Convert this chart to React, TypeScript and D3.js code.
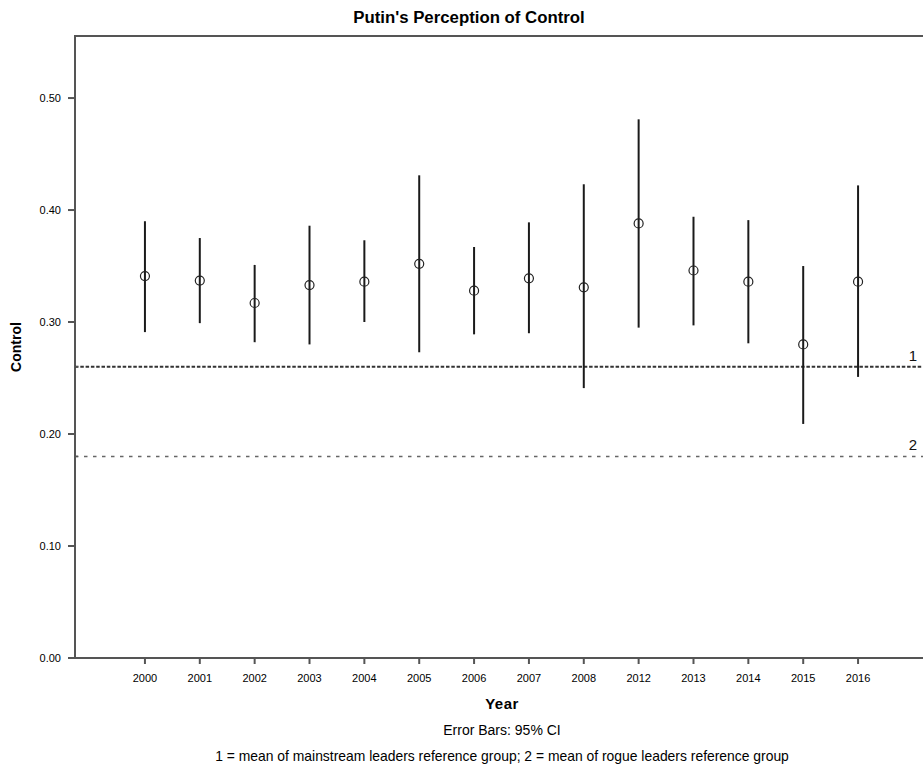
import React from "react";
import * as d3 from "d3";

const years = ["2000","2001","2002","2003","2004","2005","2006","2007","2008","2012","2013","2014","2015","2016"];
const means = [0.341,0.337,0.317,0.333,0.336,0.352,0.328,0.339,0.331,0.388,0.346,0.336,0.280,0.336];
const ciLow = [0.291,0.299,0.282,0.280,0.300,0.273,0.289,0.290,0.241,0.295,0.297,0.281,0.209,0.251];
const ciHigh = [0.390,0.375,0.351,0.386,0.373,0.431,0.367,0.389,0.423,0.481,0.394,0.391,0.350,0.422];
const yTicks = [0,0.1,0.2,0.3,0.4,0.5];
const refValues = [0.26,0.18];
const refLabels = ["1","2"];

const FONT = "'Liberation Sans', Arial, sans-serif";

export default function App() {
  const W = 923, H = 765;
  const left = 75, right = 928, top = 36, bottom = 658;
  const x = d3.scalePoint<string>().domain(years).range([left, right]).padding(1.275);
  const y = d3.scaleLinear().domain([0, 0.5554]).range([bottom, top]);
  const fmt = d3.format(".2f");
  const axisColor = "#555";
  return (
    <svg width={W} height={H} style={{ position: "absolute", left: 0, top: 0, background: "#fff" }} fontFamily={FONT}>
      <rect x={0} y={0} width={W} height={H} fill="#fff" />
      {/* frame */}
      <line x1={left} x2={right} y1={top} y2={top} stroke={axisColor} strokeWidth={2} />
      <line x1={right} x2={right} y1={top} y2={bottom} stroke={axisColor} strokeWidth={2} />
      <line x1={left} x2={left} y1={top - 1} y2={bottom + 1} stroke={axisColor} strokeWidth={2} />
      <line x1={left - 7} x2={right} y1={bottom} y2={bottom} stroke={axisColor} strokeWidth={2} />
      {/* y ticks */}
      {yTicks.map((t) => (
        <g key={t}>
          <line x1={left - 7} x2={left} y1={y(t)} y2={y(t)} stroke={axisColor} strokeWidth={2} />
          <text x={left - 14} y={y(t) + 4} textAnchor="end" fontSize={11} fill="#000">{fmt(t)}</text>
        </g>
      ))}
      {/* x ticks */}
      {years.map((yr) => (
        <g key={yr}>
          <line x1={x(yr)} x2={x(yr)} y1={bottom} y2={bottom + 6} stroke={axisColor} strokeWidth={2} />
          <text x={x(yr)} y={bottom + 24} textAnchor="middle" fontSize={11} fill="#000">{yr}</text>
        </g>
      ))}
      {/* reference lines */}
      {refValues.map((v, i) => (
        <g key={i}>
          <line x1={left} x2={W} y1={y(v)} y2={y(v)} stroke={i === 0 ? "#333" : "#666"} strokeWidth={i === 0 ? 2 : 1.5}
            strokeDasharray={i === 0 ? "3.5,1.8" : "3.5,5.5"} />
          <line x1={left} x2={left + 3} y1={y(v)} y2={y(v)} stroke={axisColor} strokeWidth={1.5} />
          <text x={913} y={y(v) - 6} textAnchor="middle" fontSize={15} fill="#111">{refLabels[i]}</text>
        </g>
      ))}
      {/* error bars */}
      {years.map((yr, i) => (
        <g key={yr}>
          <line x1={x(yr)} x2={x(yr)} y1={y(ciLow[i])} y2={y(ciHigh[i])} stroke="#1a1a1a" strokeWidth={2} />
          <circle cx={x(yr)} cy={y(means[i])} r={4.5} fill="none" stroke="#222" strokeWidth={1.2} />
        </g>
      ))}
      {/* titles */}
      <text x={469} y={23} textAnchor="middle" fontSize={16.8} fontWeight="bold" fill="#000">Putin's Perception of Control</text>
      <text x={502} y={709} textAnchor="middle" fontSize={15} fontWeight="bold" fill="#000" letterSpacing={0.5}>Year</text>
      <text x={502} y={735} textAnchor="middle" fontSize={14} fill="#000">Error Bars: 95% CI</text>
      <text x={502} y={761} textAnchor="middle" fontSize={13.9} fill="#000">1 = mean of mainstream leaders reference group; 2 = mean of rogue leaders reference group</text>
      <text transform={`translate(21,${(top + bottom) / 2}) rotate(-90)`} textAnchor="middle" fontSize={14} fontWeight="bold" fill="#000">Control</text>
    </svg>
  );
}
